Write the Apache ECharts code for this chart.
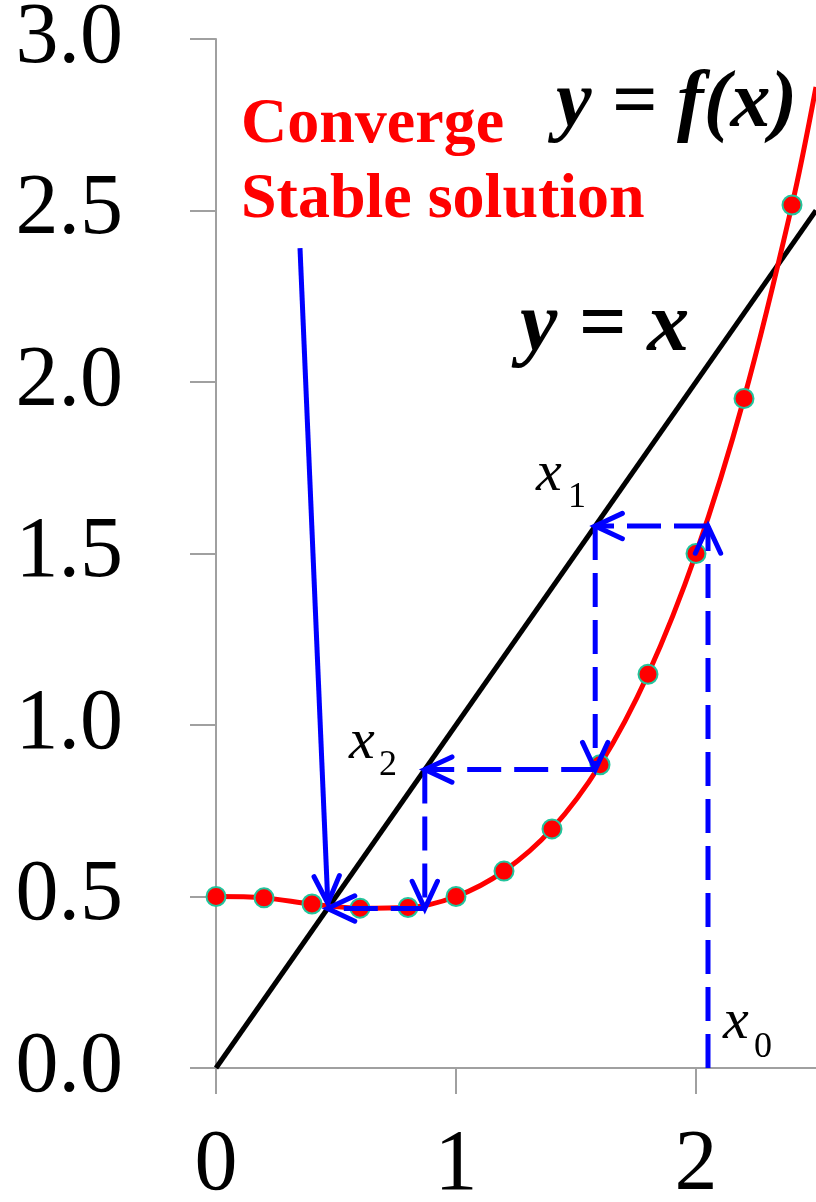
<!DOCTYPE html>
<html>
<head>
<meta charset="utf-8">
<title>Fixed-point iteration</title>
<script src="https://cdn.jsdelivr.net/npm/echarts@6/dist/echarts.min.js"></script>
<style>
  html, body { margin: 0; padding: 0; background: #fff; }
  #chart { width: 816px; height: 1202px; }
</style>
</head>
<body>
<div id="chart"></div>
<script>
// Sampled points of y = f(x)
const fxX = [0, 0.2, 0.4, 0.6, 0.8, 1.0, 1.2, 1.4, 1.6, 1.8, 2.0, 2.2, 2.4];
const fxY = [0.5, 0.496, 0.478, 0.466, 0.468, 0.5, 0.574, 0.697, 0.884, 1.148, 1.5, 1.952, 2.516];
// where the curve leaves the plot at the right edge
const fxEdgeX = [2.5];
const fxEdgeY = [2.86];

// y = x
const idX = [0, 2.5];
const idY = [0, 2.5];

// Iteration path x0 -> x1 -> x2 -> fixed point (start x, start y, end x, end y)
const stepX0 = [2.05, 2.05, 1.58, 1.58, 0.87, 0.87];
const stepY0 = [0, 1.58, 1.58, 0.87, 0.87, 0.465];
const stepX1 = [2.05, 1.58, 1.58, 0.87, 0.87, 0.465];
const stepY1 = [1.58, 1.58, 0.87, 0.87, 0.465, 0.465];

// Pointer from the caption to the stable solution
const pointerFrom = [0.35, 2.39];
const pointerTo = [0.466, 0.48];

// Axis ticks
const xTicks = [0, 1, 2];
const yMin = 0, yMax = 3, yStep = 0.5;
const xMin = 0, xMax = 2.5;

const SERIF = "'Liberation Serif', 'Times New Roman', 'DejaVu Serif', serif";
const BLUE = '#0000ff';
const RED = '#ff0000';
const AXIS = '#a0a0a0';

const curveData = fxX.map((x, i) => [x, fxY[i]]).concat(fxEdgeX.map((x, i) => [x, fxEdgeY[i]]));
const dotData = fxX.map((x, i) => [x, fxY[i]]);
const idData = idX.map((x, i) => [x, idY[i]]);
const stepData = stepX0.map((x, i) => [x, stepY0[i], stepX1[i], stepY1[i]]);
const pointerData = [[pointerFrom[0], pointerFrom[1], pointerTo[0], pointerTo[1]]];

// Line segment ending in an open chevron head
function arrowRenderer(dashed) {
  return function (params, api) {
    const a = api.coord([api.value(0), api.value(1)]);
    const b = api.coord([api.value(2), api.value(3)]);
    const ang = Math.atan2(b[1] - a[1], b[0] - a[0]);
    const L = 30, h = 25 * Math.PI / 180;
    const p1 = [b[0] - L * Math.cos(ang - h), b[1] - L * Math.sin(ang - h)];
    const p2 = [b[0] - L * Math.cos(ang + h), b[1] - L * Math.sin(ang + h)];
    return {
      type: 'group',
      children: [
        { type: 'line', shape: { x1: a[0], y1: a[1], x2: b[0], y2: b[1] },
          style: { stroke: BLUE, lineWidth: 5, lineDash: dashed ? [34, 13] : null, lineCap: 'butt' } },
        { type: 'polyline', shape: { points: [p1, b, p2] },
          style: { stroke: BLUE, lineWidth: 5, fill: null, lineJoin: 'miter', lineCap: 'round' } }
      ]
    };
  };
}

function label(text, left, top, size, opts) {
  return {
    type: 'text', left: left, top: top, z: 100,
    style: Object.assign({ text: text, fill: '#000', font: size + 'px ' + SERIF }, opts || {})
  };
}

const chart = echarts.init(document.getElementById('chart'), null, { renderer: 'canvas' });
chart.setOption({
  animation: false,
  backgroundColor: '#fff',
  grid: { left: 216, right: 0, top: 39, bottom: 134, containLabel: false, outerBoundsMode: 'none' },
  xAxis: {
    type: 'value', min: xMin, max: xMax, interval: 1,
    axisLine: { show: true, onZero: false, lineStyle: { color: AXIS, width: 2 } },
    axisTick: { show: true, length: 26, customValues: xTicks, lineStyle: { color: AXIS, width: 2 } },
    axisLabel: { customValues: xTicks, margin: 55, color: '#000', fontFamily: SERIF, fontSize: 86 },
    splitLine: { show: false }
  },
  yAxis: {
    type: 'value', min: yMin, max: yMax, interval: yStep,
    axisLine: { show: true, onZero: false, lineStyle: { color: AXIS, width: 2 } },
    axisTick: { show: true, length: 26, lineStyle: { color: AXIS, width: 2 } },
    axisLabel: { margin: 93, color: '#000', fontFamily: SERIF, fontSize: 86,
      formatter: v => v.toFixed(1) },
    splitLine: { show: false }
  },
  series: [
    { name: 'y = x', type: 'line', data: idData, showSymbol: false, symbol: 'none',
      lineStyle: { color: '#000', width: 5 }, z: 2, silent: true },
    { name: 'y = f(x)', type: 'line', data: curveData, smooth: 0.35, showSymbol: false, symbol: 'none',
      lineStyle: { color: RED, width: 5 }, z: 3, silent: true },
    { name: 'samples', type: 'scatter', data: dotData, symbol: 'circle', symbolSize: 19,
      itemStyle: { color: RED, borderColor: '#22c49c', borderWidth: 2, opacity: 1 }, z: 4, silent: true },
    { name: 'iteration', type: 'custom', data: stepData, renderItem: arrowRenderer(true),
      encode: { x: [0, 2], y: [1, 3] }, z: 5, silent: true },
    { name: 'pointer', type: 'custom', data: pointerData, renderItem: arrowRenderer(false),
      encode: { x: [0, 2], y: [1, 3] }, z: 5, silent: true }
  ],
  graphic: [
    label('y = f(x)', 556, 65, 80, { font: 'italic bold 80px ' + SERIF }),
    label('y = x', 520, 286, 84, { font: 'italic bold 84px ' + SERIF }),
    label('Converge', 241, 93, 64, { font: 'bold 64px ' + SERIF, fill: RED }),
    label('Stable solution', 241, 168, 64, { font: 'bold 64px ' + SERIF, fill: RED }),
    label('x', 536, 446, 58, { font: 'italic 58px ' + SERIF }),
    label('1', 568, 480, 36),
    label('x', 349, 714, 58, { font: 'italic 58px ' + SERIF }),
    label('2', 379, 748, 36),
    label('x', 723, 994, 58, { font: 'italic 58px ' + SERIF }),
    label('0', 754, 1030, 36)
  ]
});
</script>
</body>
</html>
